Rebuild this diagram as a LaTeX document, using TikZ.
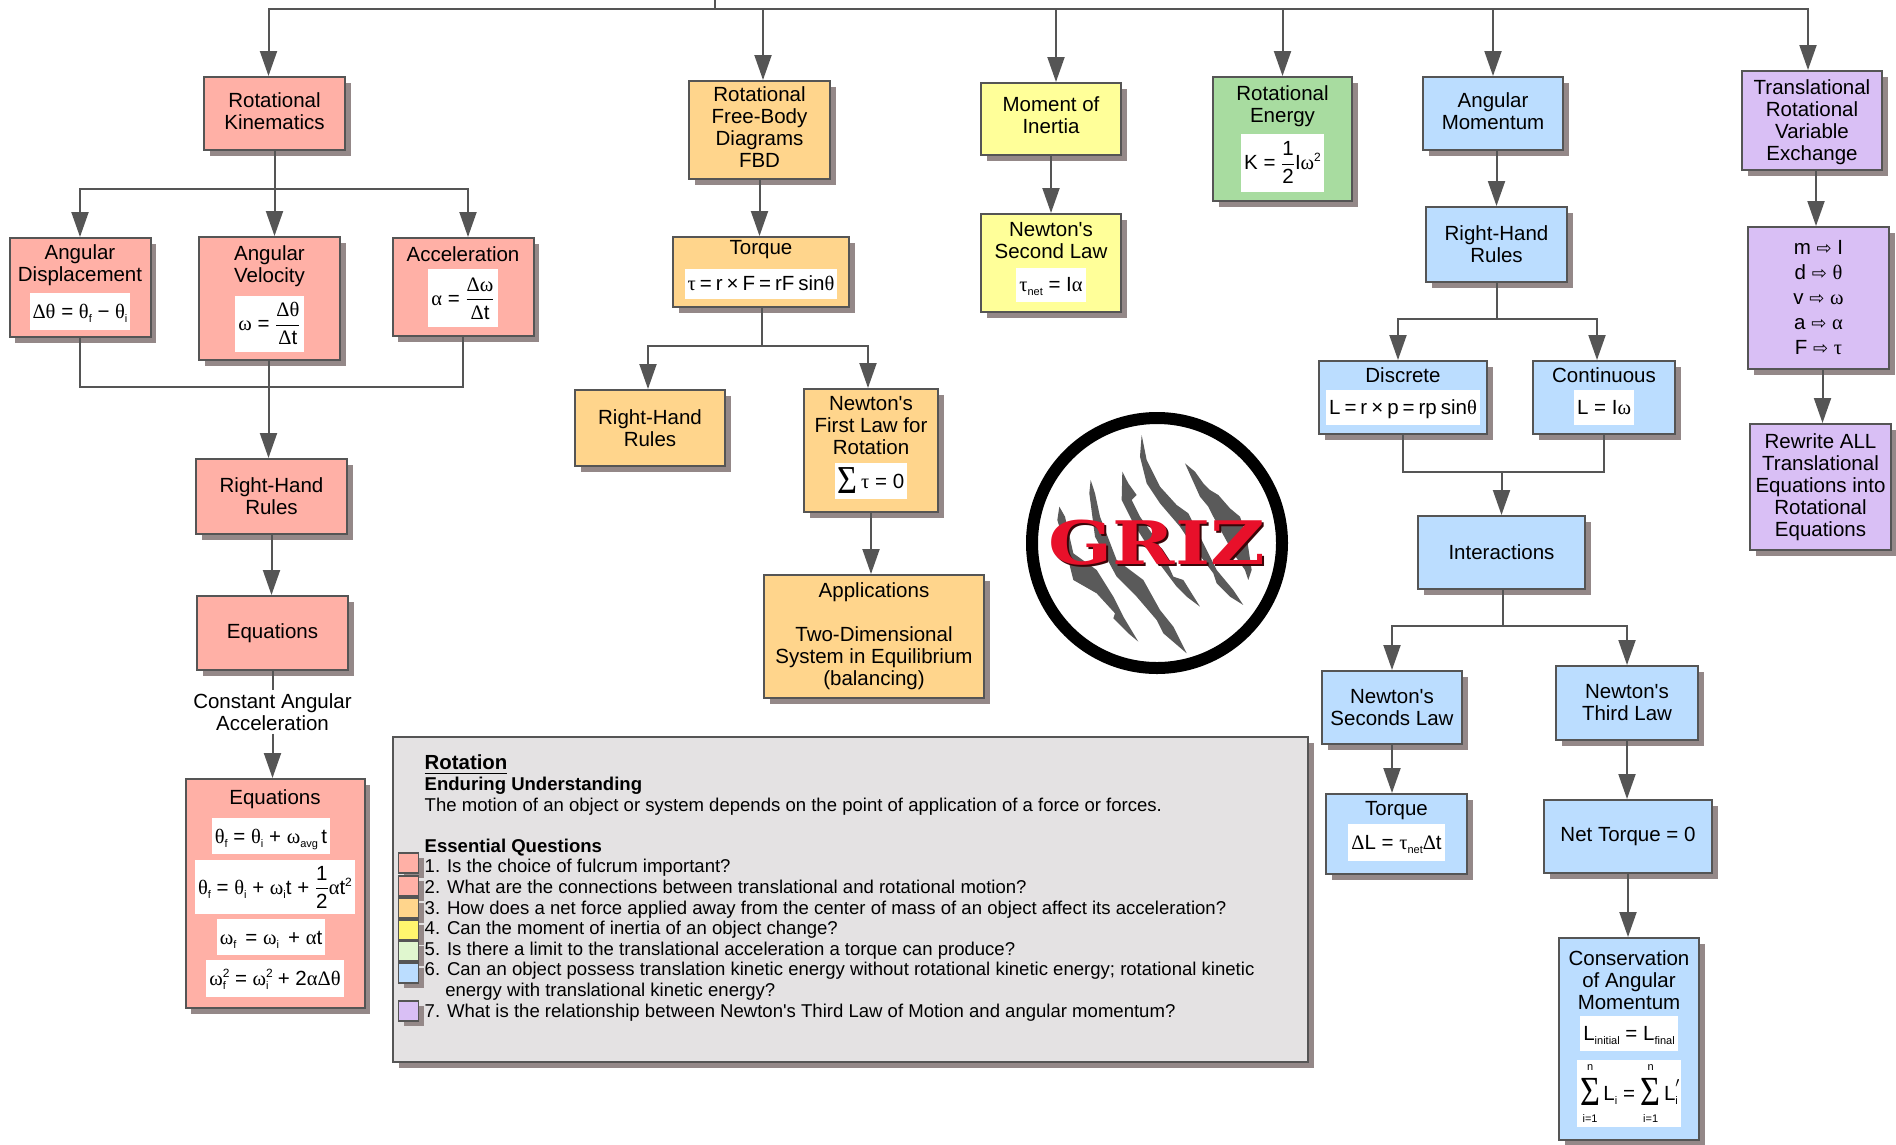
\documentclass[tikz,border=0pt]{standalone}
\usepackage{amsmath}
\usepackage{fontspec}
\setmainfont{Liberation Sans}[Ligatures=TeXOff]
\newfontfamily\grfont{Liberation Serif}
\newfontfamily\symfont{DejaVu Sans}
\newfontfamily\logofont{DejaVu Serif}
\usepackage{tikz}
\usetikzlibrary{arrows.meta, positioning, shadows}

\definecolor{linegray}{HTML}{555555}
\definecolor{shadowgray}{HTML}{948888}
\definecolor{kinred}{HTML}{FFB0A6}
\definecolor{fbdorange}{HTML}{FFD58C}
\definecolor{moiyellow}{HTML}{FFFF99}
\definecolor{legyellow}{HTML}{FFF56E}
\definecolor{energygreen}{HTML}{A8DCA0}
\definecolor{leggreen}{HTML}{E0F7CF}
\definecolor{mompurple}{HTML}{D9BFF5}
\definecolor{momblue}{HTML}{BBDDFF}
\definecolor{sumgray}{HTML}{E4E2E3}
\definecolor{clawgray}{HTML}{5A5A5A}
\definecolor{grizred}{HTML}{E8102A}
\definecolor{grizdark}{HTML}{3A0508}

\newcommand{\gk}[1]{{\grfont #1}}
\newcommand{\lsub}[1]{\raisebox{-4pt}{\fontsize{11}{11}\selectfont #1}}
\newcommand{\hsup}[1]{\raisebox{8pt}{\fontsize{12}{12}\selectfont #1}}
\newcommand{\subsup}[2]{\rlap{\hsup{#1}}\lsub{#2}}
\newcommand{\eqs}{\hspace{4pt}}
\newcommand{\pad}[1]{\rule[-#1pt]{0pt}{0pt}}
\newcommand{\fml}[2][4]{{\setlength{\fboxsep}{3pt}\colorbox{white}{\rule[-#1pt]{0pt}{\dimexpr 14pt+2\dimexpr #1pt\relax\relax}#2}}}
\newcommand{\vfrac}[2]{$\displaystyle\frac{\mbox{#1}}{\mbox{#2}}$}
\newcommand{\sumsign}[1]{{\grfont\fontsize{36}{36}\selectfont\raisebox{-5pt}{\scalebox{0.95}[#1]{Σ}}}}
\newcommand{\bigsum}[2]{$\mathop{\mbox{\sumsign{1.15}}}\limits_{\raisebox{-4pt}{\fontsize{11}{11}\selectfont #1}}^{\raisebox{4pt}{\fontsize{11}{11}\selectfont #2}}$}
\newcommand{\varto}[2]{#1 {\symfont\fontsize{18}{18}\selectfont ⇨} #2}

\begin{document}
\begin{tikzpicture}[x=1pt, y=-1pt, on grid, auto,
    >={Triangle[length=25pt, width=17pt]},
    every edge/.style={draw=linegray, line width=2pt},
    conn/.style={draw=linegray, line width=2pt},
    topic/.style={draw=linegray, line width=2pt, align=center, inner sep=0pt,
        minimum width=141pt, minimum height=73pt,
        font=\fontsize{20.5}{22}\selectfont,
        general shadow={shadow xshift=5.5pt, shadow yshift=-5.5pt, fill=shadowgray}},
    kin/.style={topic, fill=kinred},
    fbd/.style={topic, fill=fbdorange},
    moi/.style={topic, fill=moiyellow},
    energy/.style={topic, fill=energygreen},
    mom/.style={topic, fill=momblue},
    trans/.style={topic, fill=mompurple},
    legendbox/.style={draw=linegray, line width=1.5pt, minimum size=20pt, inner sep=0pt,
        general shadow={shadow xshift=5pt, shadow yshift=-5pt, fill=shadowgray}}]

    \useasboundingbox (0,0) rectangle (1896,1144);

    % kinematics column
    \node[kin] (rotkin) at (274.5,113.5) {Rotational\\Kinematics\pad{5}};
    \node[kin, minimum height=99pt] (angdisp) [below=174pt of rotkin, xshift=-194.5pt]
        {Angular\\Displacement\\[6pt]\fml[8.5]{\gk{Δθ} = \gk{θ}\lsub{f} − \gk{θ}\lsub{i}}};
    \node[kin, minimum height=123pt] (angvel) [below=185pt of rotkin, xshift=-5pt]
        {Angular\\Velocity\\[8pt]\fml[18]{\gk{ω} = \vfrac{\gk{Δθ}}{\gk{Δ}t}}};
    \node[kin, minimum height=98pt] (accel) [below=173.5pt of rotkin, xshift=188.5pt]
        {Acceleration\\[6pt]\fml[19]{\gk{α} = \vfrac{\gk{Δω}}{\gk{Δ}t}}};
    \node[kin, minimum width=151pt, minimum height=75pt] (rhrkin) [below=198pt of angvel, xshift=2pt] {Right-Hand\\Rules};
    \node[kin, minimum width=151pt, minimum height=74pt] (eqkin) [below=136.5pt of rhrkin, xshift=1pt] {Equations};
    \node[align=center, inner sep=3pt, font=\fontsize{20.5}{22}\selectfont] (constacc) [below=79pt of eqkin] {Constant Angular\\Acceleration};
    \node[kin, minimum width=179pt, minimum height=229pt] (eqlist) [below=181.5pt of constacc, xshift=2.5pt]
        {Equations\\[8pt]
        \hspace*{-8pt}\fml[8]{\gk{θ}\lsub{f} = \gk{θ}\lsub{i} + \gk{ω}\lsub{avg}\,t}\\[5pt]
        \fml[17]{\gk{θ}\lsub{f} = \gk{θ}\lsub{i} + \gk{ω}\lsub{i}t + \vfrac{1}{2}\gk{α}t\hsup{2}}\\[4pt]
        \hspace*{-8pt}\fml[8]{\gk{ω}\lsub{f}\, = \gk{ω}\lsub{i}\, + \gk{α}t}\\[4pt]
        \fml[8.5]{\gk{ω}\subsup{2}{f}\, = \gk{ω}\subsup{2}{i}\, + 2\gk{αΔθ}}};

    % free-body column
    \node[fbd, minimum height=98pt] (rfbd) at (759.5,130) {Rotational\\Free-Body\\Diagrams\\FBD\pad{5}};
    \node[fbd, minimum width=176pt, minimum height=70pt] (torque) [below=142pt of rfbd, xshift=1.5pt]
        {Torque\\[9pt]\fml[5]{\gk{τ}\eqs=\eqs r\eqs×\eqs F\eqs=\eqs rF\eqs sin\gk{θ}}\pad{13}};
    \node[fbd, minimum width=150pt, minimum height=76pt] (rhrfbd) [below=156pt of torque, xshift=-111pt] {Right-Hand\\Rules};
    \node[fbd, minimum width=134pt, minimum height=123pt] (newton1) [below=178.5pt of torque, xshift=110pt]
        {Newton's\\First Law for\\Rotation\\[7.5pt]\fml[8]{\sumsign{1.1}\,\gk{τ} = 0}\pad{16}};
    \node[fbd, minimum width=220pt, minimum height=123pt] (apps) [below=186pt of newton1, xshift=3pt]
        {Applications\\[22pt]Two-Dimensional\\System in Equilibrium\\(balancing)};

    % inertia and energy
    \node[moi, minimum width=140pt, minimum height=72pt] (inertia) at (1051,119) {Moment of\\Inertia\pad{8}};
    \node[moi, minimum width=140pt, minimum height=98pt] (newton2) [below=144pt of inertia]
        {Newton's\\Second Law\\[8pt]\fml[7]{\gk{τ}\lsub{net} = I\gk{α}}\pad{12}};
    \node[energy, minimum width=139pt, minimum height=124pt] (rotenergy) at (1282.5,139)
        {Rotational\\Energy\\[6pt]\fml[19]{K = \vfrac{1}{2}I\gk{ω}\hsup{2}}\pad{23}};

    % momentum column
    \node[mom, minimum width=140pt] (angmom) at (1493,113.5) {Angular\\Momentum\pad{5}};
    \node[mom, minimum height=75pt] (rhrmom) [below=131pt of angmom, xshift=3.5pt] {Right-Hand\\Rules};
    \node[mom, minimum width=168pt] (discrete) [below=153pt of rhrmom, xshift=-93.5pt]
        {Discrete\\[7pt]\fml[7.5]{L\eqs=\eqs r\eqs×\eqs p\eqs=\eqs rp\eqs sin\gk{θ}}\pad{13}};
    \node[mom, minimum width=142pt] (continuous) [right=201pt of discrete]
        {Continuous\\[7pt]\fml[7.5]{L = I\gk{ω}}\pad{13}};
    \node[mom, minimum width=167pt] (interact) [below=155pt of discrete, xshift=98.5pt] {Interactions};
    \node[mom, minimum width=140pt] (newtons) [below=155pt of interact, xshift=-109.5pt] {Newton's\\Seconds Law};
    \node[mom, minimum width=142pt, minimum height=74pt] (newtont) [below=150.5pt of interact, xshift=125.5pt] {Newton's\\Third Law};
    \node[mom, minimum height=80pt] (torquemom) [below=126.5pt of newtons, xshift=4.5pt]
        {Torque\\[3pt]\fml[8.5]{\gk{Δ}L = \gk{τ}\lsub{net}\gk{Δ}t}\pad{17}};
    \node[mom, minimum width=168pt] (nettorque) [below=133.5pt of newtont, xshift=1pt] {Net Torque = 0};
    \node[mom, minimum width=140pt, minimum height=202pt] (conserv) [below=202.5pt of nettorque, xshift=1pt]
        {Conservation\\of Angular\\Momentum\\[5pt]\fml[7.5]{L\lsub{initial} = L\lsub{final}}\\[8pt]
        \fml{\bigsum{i=1}{n}\,L\lsub{i} = \bigsum{i=1}{n}\,L\rlap{\raisebox{6pt}{$'$}}\lsub{i}}};

    % translational column
    \node[trans, minimum width=140pt, minimum height=99pt] (trve) at (1812,120.5) {\rule{0pt}{19pt}Translational\\Rotational\\Variable\\Exchange};
    \node[trans, minimum height=142pt] (varlist) [below=177.5pt of trve, xshift=6.5pt]
        {\varto{m}{I}\\[3pt]\varto{d}{\gk{θ}}\\[3pt]\varto{v}{\gk{ω}}\\[3pt]\varto{a}{\gk{α}}\\[3pt]\varto{F}{\gk{τ}}};
    \node[trans, minimum height=126pt] (rewrite) [below=189pt of varlist, xshift=2pt]
        {Rewrite ALL\\Translational\\Equations into\\Rotational\\Equations};

    % logo
    \node[circle, draw=black, fill=white, line width=12pt, minimum size=250pt, inner sep=0pt] (griz) at (1157,543) {};
    \begin{scope}[shift={(1000,380)}, x=0.3333pt, y=-0.3333pt]
        \fill[clawgray] (555,250) -- (585,275) -- (610,310) -- (630,330) -- (655,345) -- (690,385) -- (720,410) -- (740,470) -- (755,570) -- (745,600) -- (735,570) -- (700,520) -- (640,410) -- (625,380) -- (600,350) -- cycle;
        \fill[clawgray] (425,165) -- (440,240) -- (480,320) -- (530,375) -- (565,400) -- (600,470) -- (650,570) -- (700,630) -- (730,675) -- (690,650) -- (650,610) -- (640,580) -- (580,500) -- (540,440) -- (480,370) -- (440,310) -- (420,230) -- cycle;
        \fill[clawgray] (367,275) -- (385,310) -- (410,345) -- (395,360) -- (420,410) -- (470,480) -- (520,590) -- (550,600) -- (600,680) -- (560,650) -- (530,620) -- (470,540) -- (400,430) -- (365,360) -- cycle;
        \fill[clawgray] (272,300) -- (285,340) -- (300,410) -- (350,540) -- (430,600) -- (480,690) -- (520,740) -- (560,820) -- (490,760) -- (470,720) -- (410,650) -- (350,590) -- (285,470) -- (268,340) -- cycle;
        \fill[clawgray] (178,380) -- (195,410) -- (220,520) -- (290,570) -- (340,650) -- (370,710) -- (415,785) -- (385,760) -- (340,715) -- (345,700) -- (290,640) -- (220,600) -- (190,480) -- (172,420) -- cycle;
    \end{scope}
    \node[text=grizdark, font=\logofont\bfseries\fontsize{60}{60}\selectfont, inner sep=0pt] (grizback) [below right=2pt and 2pt of griz] {\scalebox{1.25}[1]{GRIZ}};
    \node[text=grizred, font=\logofont\bfseries\fontsize{60}{60}\selectfont, inner sep=0pt] (griztext) at (griz) {\scalebox{1.25}[1]{GRIZ}};

    % summary box
    \node[topic, fill=sumgray, minimum width=915pt, minimum height=325pt] (summary) at (850.5,899.5) {};
    \foreach \ypos/\qcolor [count=\qnum] in {863/kinred, 886/kinred, 908/fbdorange, 930/legyellow, 951/leggreen, 973/momblue, 1011/mompurple}
        \node[legendbox, fill=\qcolor] (q\qnum) at (408.5,\ypos) {};
    \node[anchor=north west, align=left, inner sep=0pt, font=\fontsize{18.55}{20.6}\selectfont] (sumtext) at (424.5,755)
        {{\fontsize{20.4}{20.6}\selectfont\bfseries\underline{Rotation}}\\
        \textbf{Enduring Understanding}\\
        The motion of an object or system depends on the point of application of a force or forces.\\[20.6pt]
        \textbf{Essential Questions}\\
        1. Is the choice of fulcrum important?\\
        2. What are the connections between translational and rotational motion?\\
        3. How does a net force applied away from the center of mass of an object affect its acceleration?\\
        4. Can the moment of inertia of an object change?\\
        5. Is there a limit to the translational acceleration a torque can produce?\\
        6. Can an object possess translation kinetic energy without rotational kinetic energy; rotational kinetic\\
        \hspace*{20.6pt}energy with translational kinetic energy?\\
        7. What is the relationship between Newton's Third Law of Motion and angular momentum?};

    % junctions
    \coordinate (root) at (715,0);
    \coordinate (bus) at (715,9);
    \coordinate (kinsplit) at (274.5,189);
    \coordinate (kinjoin) at (268.5,387);
    \coordinate (torquesplit) at (762,346);
    \coordinate (momsplit) at (1497,319);
    \coordinate (discjoin) at (1501.5,472);
    \coordinate (intersplit) at (1503,626);

    \draw[conn] (root) -- (bus);
    \draw[conn, ->] (bus) -| ([xshift=-6pt]rotkin.north);
    \draw[conn, ->] (bus) -| ([xshift=3.5pt]rfbd.north);
    \draw[conn, ->] (bus) -| ([xshift=5pt]inertia.north);
    \draw[conn, ->] (bus) -| (rotenergy.north);
    \draw[conn, ->] (bus) -| (angmom.north);
    \draw[conn, ->] (bus) -| ([xshift=-4pt]trve.north);

    \path[->]
    (rotkin.south) edge (rotkin.south |- angvel.north)
    (rhrkin.south) edge (rhrkin.south |- eqkin.north)
    (constacc.south) edge (constacc.south |- eqlist.north)
    (rfbd.south) edge (rfbd.south |- torque.north)
    (newton1.south) edge (newton1.south |- apps.north)
    (inertia.south) edge (inertia.south |- newton2.north)
    (rhrmom.north |- angmom.south) edge (rhrmom.north)
    (newtons.south) edge (newtons.south |- torquemom.north)
    (newtont.south) edge (newtont.south |- nettorque.north)
    (nettorque.south) edge (nettorque.south |- conserv.north)
    ([xshift=4pt]trve.south) edge ([xshift=4pt]trve.south |- varlist.north)
    ([xshift=4pt]varlist.south) edge ([xshift=4pt]varlist.south |- rewrite.north);

    \draw[conn] (eqkin.south) -- (eqkin.south |- constacc.north);

    \draw[conn, ->] (rotkin.south |- kinsplit) -| (angdisp.north);
    \draw[conn, ->] (rotkin.south |- kinsplit) -| ([xshift=5pt]accel.north);
    \draw[conn] (angdisp.south) |- (kinjoin);
    \draw[conn] (accel.south) |- (kinjoin);
    \draw[conn, ->] (angvel.south -| kinjoin) -- (rhrkin.north -| kinjoin);

    \draw[conn] (torque.south -| torquesplit) -- (torquesplit);
    \draw[conn, ->] (torquesplit) -| ([xshift=-2pt]rhrfbd.north);
    \draw[conn, ->] (torquesplit) -| ([xshift=-3pt]newton1.north);

    \draw[conn] (rhrmom.south -| momsplit) -- (momsplit);
    \draw[conn, ->] (momsplit) -| ([xshift=-5pt]discrete.north);
    \draw[conn, ->] (momsplit) -| ([xshift=-7pt]continuous.north);
    \draw[conn] (discrete.south) |- (discjoin);
    \draw[conn] (continuous.south) |- (discjoin);
    \draw[conn, ->] (discjoin) -- (interact.north);

    \draw[conn] (interact.south -| intersplit) -- (intersplit);
    \draw[conn, ->] (intersplit) -| (newtons.north);
    \draw[conn, ->] (intersplit) -| (newtont.north);

\end{tikzpicture}
\end{document}
